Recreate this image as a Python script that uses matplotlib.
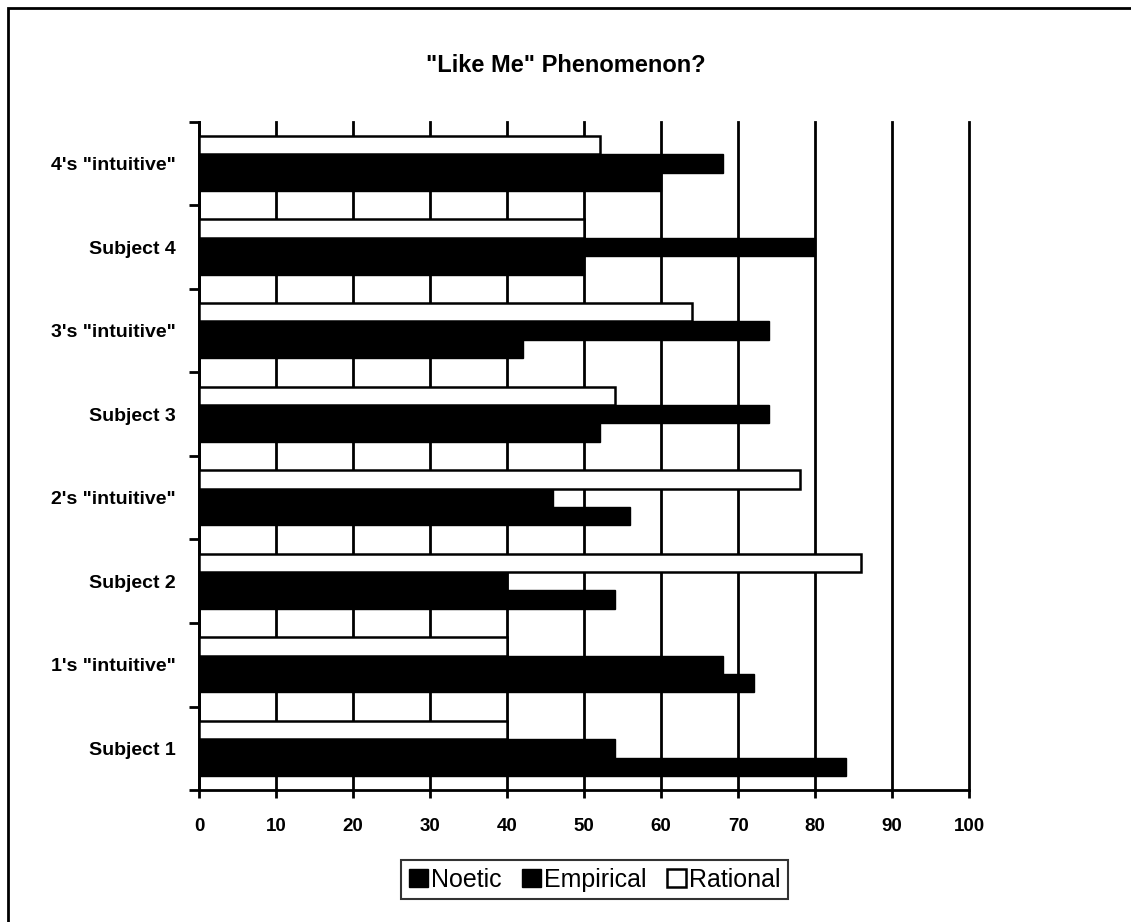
import numpy as np
import matplotlib
matplotlib.use("Agg")
import matplotlib.pyplot as plt
from matplotlib.patches import Rectangle

## Data (bottom to top)
categories = ['Subject 1', '1\'s "intuitive"', 'Subject 2', '2\'s "intuitive"',
              'Subject 3', '3\'s "intuitive"', 'Subject 4', '4\'s "intuitive"']
noetic = [84, 72, 54, 56, 52, 42, 50, 60]
empirical = [54, 68, 40, 46, 74, 74, 80, 68]
rational = [40, 40, 86, 78, 54, 64, 50, 52]
x_ticks = list(range(0, 101, 10))

plt.rcParams['font.family'] = ['Liberation Sans', 'DejaVu Sans']

fig = plt.figure(figsize=(11.31, 9.22), dpi=100)
ax = fig.add_axes([0.176, 0.143, 0.681, 0.725])

y = np.arange(len(categories))
h = 0.22
ax.barh(y - h, noetic, height=h, color='black', edgecolor='black', lw=1, zorder=3, label='Noetic')
ax.barh(y, empirical, height=h, color='black', edgecolor='black', lw=1, zorder=3, label='Empirical')
ax.barh(y + h, rational, height=h, color='white', edgecolor='black', lw=1.8, zorder=3, label='Rational')

ax.set_xlim(0, 100)
ax.set_ylim(-0.5, len(categories) - 0.5)
ax.set_xticks(x_ticks)
ax.set_xticklabels([str(t) for t in x_ticks], fontsize=13.5, fontweight='bold')
ax.set_yticks(y)
ax.set_yticklabels(categories, fontsize=14, fontweight='bold')
ax.set_yticks(np.arange(len(categories) + 1) - 0.5, minor=True)
ax.tick_params(axis='y', which='major', length=0, pad=17)
ax.tick_params(axis='y', which='minor', length=7, width=2)
ax.tick_params(axis='x', length=6, width=2, pad=14)

ax.grid(axis='x', color='black', lw=2, zorder=0)
for gl in ax.get_xgridlines():
  gl.set_clip_on(False)
for s in ['top', 'right']:
  ax.spines[s].set_visible(False)
ax.spines['left'].set_linewidth(2)
ax.spines['bottom'].set_linewidth(2)

fig.text(0.5, 0.929, '"Like Me" Phenomenon?', ha='center', va='center',
         fontsize=17, fontweight='bold')

leg = fig.legend(loc='center', bbox_to_anchor=(0.526, 0.046), ncol=3, frameon=True,
                 fontsize=18, handlelength=0.75, handleheight=0.75, handletextpad=0.15,
                 columnspacing=0.8, borderpad=0.3, fancybox=False, edgecolor='black')
leg.get_frame().set_linewidth(1.5)

## Outer frame
fig.patches.append(Rectangle((8 / 1131, -0.1), 1.2, 1 - 8 / 922 + 0.1, transform=fig.transFigure,
                             fill=False, edgecolor='black', lw=2))

fig.savefig('out.png', dpi=100)
